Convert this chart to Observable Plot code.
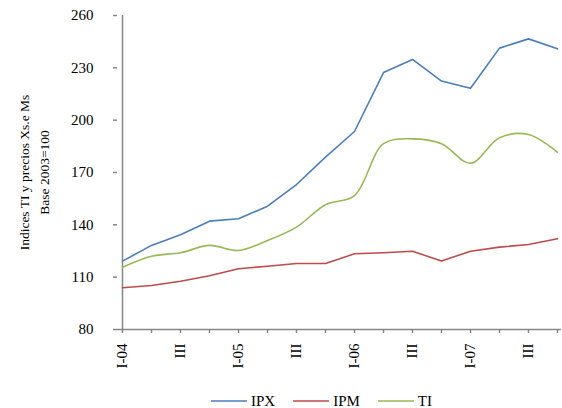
<!DOCTYPE html>
<html>
<head>
<meta charset="utf-8">
<script src="https://cdn.jsdelivr.net/npm/d3@7"></script>
<script src="https://cdn.jsdelivr.net/npm/@observablehq/plot@0.6"></script>
<style>
  html, body { margin: 0; padding: 0; background: #fff; }
  body { width: 562px; height: 408px; position: relative; overflow: hidden;
         font-family: "Liberation Serif", "Times New Roman", serif; }
  #legend { position: absolute; left: 211px; top: 391px; display: flex; align-items: center;
            font-size: 15px; color: #000; line-height: 20px; }
  .item { display: flex; align-items: center; margin-right: 18px; }
  .item svg { margin-right: 4px; display: block; }
</style>
</head>
<body>
<div id="chart"></div>
<div id="legend"></div>
<script>
const quarters = ["I-04","II-04","III-04","IV-04","I-05","II-05","III-05","IV-05",
                  "I-06","II-06","III-06","IV-06","I-07","II-07","III-07","IV-07"];
const tickLabels = ["I-04","","III","","I-05","","III","","I-06","","III","","I-07","","III",""];
const ipx = [119.2,128.2,134.3,142.1,143.5,150.7,163.1,178.8,193.5,227.3,234.8,222.4,218.3,241.3,246.6,240.9];
const ipm = [103.9,105.2,107.7,110.8,114.8,116.3,117.8,117.8,123.4,124.0,124.9,119.2,124.9,127.2,128.7,132.0];
const ti  = [115.7,122.0,124.0,128.2,125.3,131.0,138.7,151.5,156.8,186.5,189.3,186.5,175.3,189.9,191.8,181.6];
const yTicks = [80,110,140,170,200,230,260];
const seriesNames = ["IPX","IPM","TI"];
const seriesColors = ["#4a7ebb","#be4b48","#98b954"];
const yTitle = "Indices TI y precios Xs.e Ms\nBase 2003=100";

const rows = (vals) => quarters.map((q, i) => ({q, v: vals[i]}));
const labelOf = Object.fromEntries(quarters.map((q, i) => [q, tickLabels[i]]));
const axisColor = "#868686";

const chart = Plot.plot({
  width: 562,
  height: 385,
  marginLeft: 117,
  marginRight: 1,
  marginTop: 15,
  marginBottom: 56,
  style: {fontFamily: '"Liberation Serif", "Times New Roman", serif', fontSize: "15px", color: "#000", background: "#fff"},
  x: {type: "point", domain: quarters, padding: 0},
  y: {domain: [80, 260]},
  marks: [
    Plot.axisY({ticks: yTicks, tickSize: 4, tickPadding: 20, stroke: axisColor, strokeWidth: 1.5, fill: "#000", fontSize: 15, label: null}),
    Plot.axisX({ticks: quarters, tickFormat: d => labelOf[d], tickRotate: -90, tickSize: 4, tickPadding: 10,
                stroke: axisColor, strokeWidth: 1.5, fill: "#000", fontSize: 15, label: null}),
    Plot.ruleX([quarters[0]], {stroke: axisColor, strokeWidth: 1.5}),
    Plot.ruleY([80], {stroke: axisColor, strokeWidth: 1.5}),
    Plot.line(rows(ipm), {x: "q", y: "v", stroke: seriesColors[1], strokeWidth: 1.6}),
    Plot.line(rows(ti), {x: "q", y: "v", stroke: seriesColors[2], strokeWidth: 1.6, curve: "catmull-rom"}),
    Plot.line(rows(ipx), {x: "q", y: "v", stroke: seriesColors[0], strokeWidth: 1.6}),
    Plot.text([yTitle], {frameAnchor: "left", text: d => d, rotate: -90, dx: -85, textAnchor: "middle",
                         fontSize: 13.5, lineHeight: 1.45, fill: "#000"})
  ]
});
document.getElementById("chart").appendChild(chart);

const legend = document.getElementById("legend");
seriesNames.forEach((name, i) => {
  const item = document.createElement("div");
  item.className = "item";
  item.innerHTML = `<svg width="36" height="4"><line x1="0" x2="36" y1="2" y2="2" stroke="${seriesColors[i]}" stroke-width="1.5"/></svg>`;
  const t = document.createElement("span");
  t.textContent = name;
  item.appendChild(t);
  legend.appendChild(item);
});
</script>
</body>
</html>
